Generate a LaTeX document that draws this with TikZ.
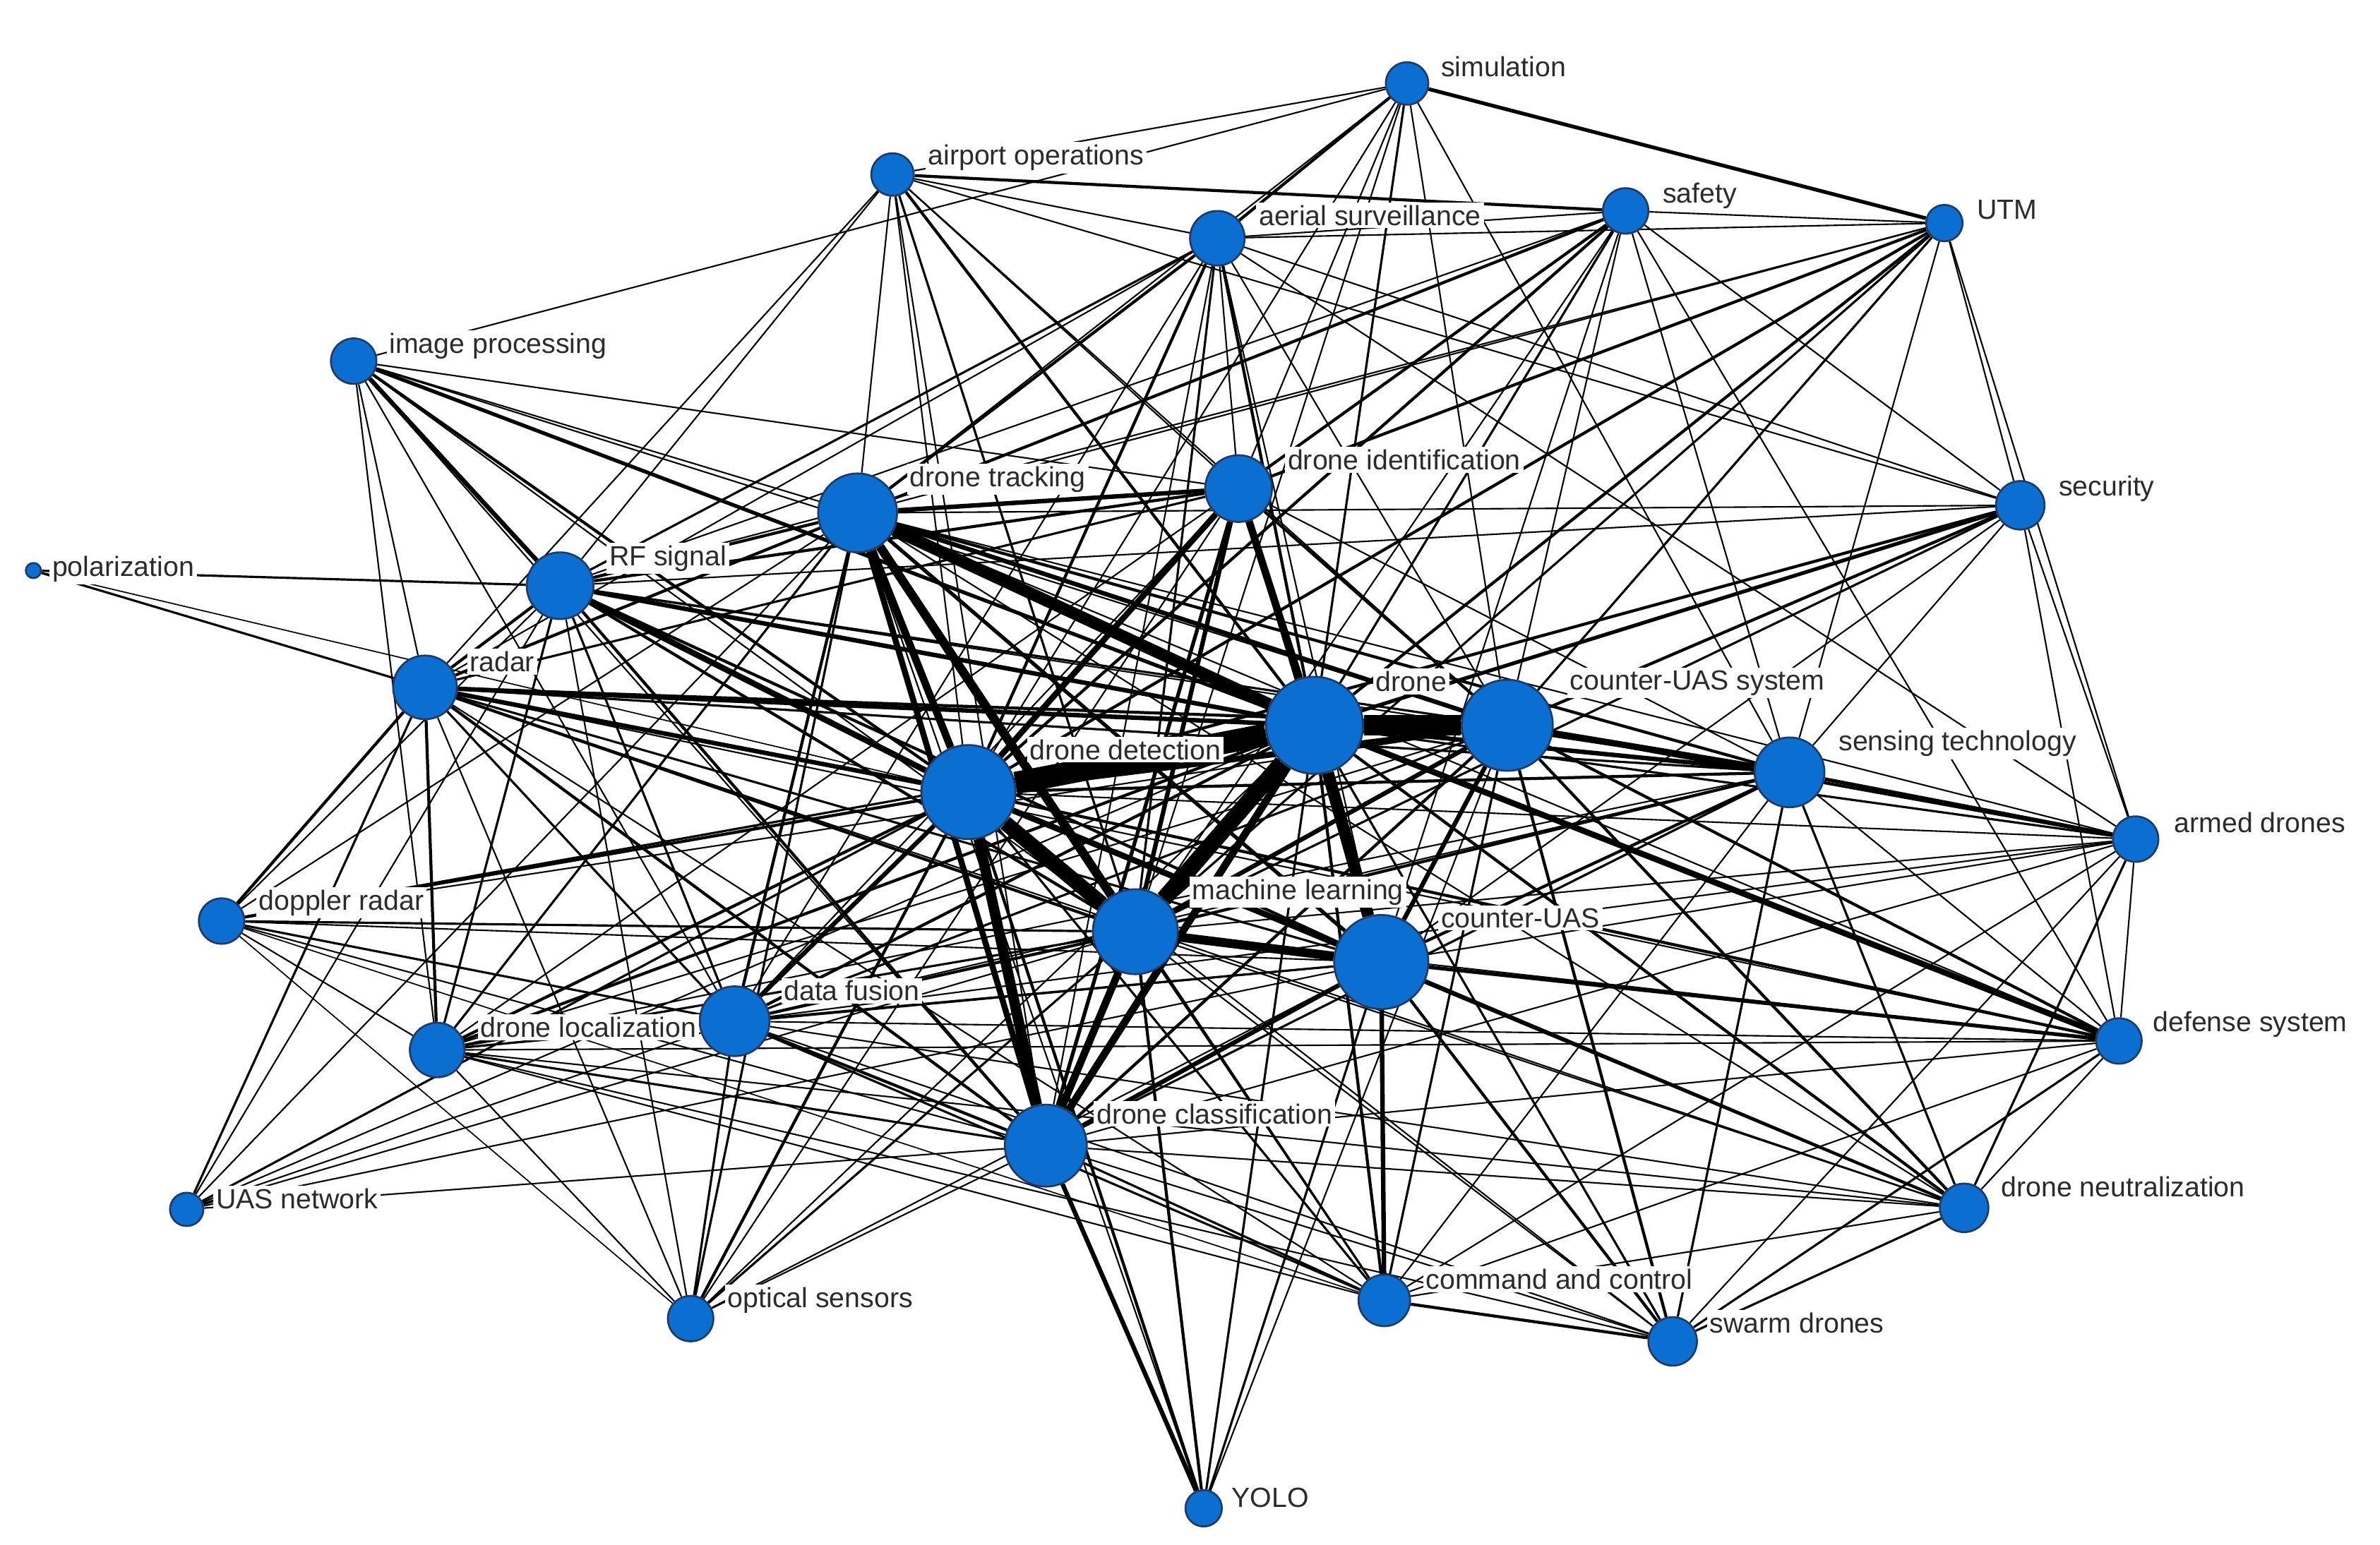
\documentclass[tikz,border=0pt]{standalone}
\usepackage{fontspec}
\setmainfont{Liberation Sans}
\usetikzlibrary{backgrounds}
\definecolor{kwfill}{HTML}{0A6FD1}
\definecolor{kwdraw}{HTML}{1F3A66}
\definecolor{kwtext}{HTML}{2B2B2B}
\tikzset{
  kw/.style={circle, draw=kwdraw, line width=0.35pt, fill=kwfill, inner sep=0pt},
  kwlabel/.style={fill=white, inner sep=0.5pt, anchor=west, text=kwtext,
                  font=\fontsize{5.2}{6}\selectfont},
  link/.style={draw=black},
}

\begin{document}
\begin{tikzpicture}[x=0.1mm, y=-0.1mm]
  \useasboundingbox (0,0) rectangle (1568,1018);
  % keywords: name / x / y / radius / label x / label y / text
  \foreach \n/\x/\y/\r/\lx/\ly/\txt in {
      sim/927/55/14/947/44/simulation,
      airport/588/115/14/609/104/airport operations,
      aerial/802/157/18/827/142/aerial surveillance,
      safety/1071/139/15/1093/129/safety,
      utm/1281/147/12/1300/138/UTM,
      imgproc/233/238/15/254/228/image processing,
      security/1331/333/16/1354/322/security,
      tracking/565/338/26/597/316/drone tracking,
      ident/816/322/22/846/303/drone identification,
      polar/22/376/5/32/375/polarization,
      rf/369/386/22/399/368/RF signal,
      radar/280/453/21/307/436/radar,
      drone/866/478/32/904/449/drone,
      cuass/993/478/30/1032/450/counter-UAS system,
      detect/638/522/31/676/494/drone detection,
      sensing/1179/509/23/1209/490/sensing technology,
      armed/1407/553/15/1430/542/armed drones,
      doppler/146/607/15/168/595/doppler radar,
      ml/748/614/28/783/588/machine learning,
      cuas/910/634/31/947/605/counter-UAS,
      fusion/484/673/23/514/653/data fusion,
      local/288/692/18/314/677/drone localization,
      defense/1396/686/15/1416/675/defense system,
      classif/689/755/27/720/734/drone classification,
      uasnet/123/797/11/140/790/UAS network,
      neutral/1294/796/16/1316/782/drone neutralization,
      optical/455/869/15/477/857/optical sensors,
      cc/912/857/17/937/843/command and control,
      swarm/1102/884/16/1124/872/swarm drones,
      yolo/793/994/12/809/987/YOLO}{
    \node[kw, minimum size=2*\r*0.1mm] (\n) at (\x,\y) {};
    \node[kwlabel] (\n-lbl) at (\lx,\ly) {\txt};
  }
  % co-occurrence links: from / to / width in px
  \begin{pgfonlayer}{background}
    \foreach \a/\b/\w in {
        drone/detect/15, drone/cuass/14, drone/ml/11, tracking/drone/8,
        drone/cuas/8, detect/ml/10, detect/classif/7, tracking/detect/5,
        tracking/ml/6, tracking/classif/4, classif/ml/5, classif/drone/5,
        ident/drone/5, ident/detect/4, ident/ml/3, ident/classif/2.5,
        ml/cuas/6, detect/cuas/4, detect/cuass/4, cuass/cuas/3,
        cuass/ml/3, cuass/sensing/4, drone/sensing/3, detect/sensing/2,
        classif/cuas/3, tracking/cuass/3, tracking/ident/3, tracking/cuas/2.5,
        rf/detect/4, rf/drone/3, rf/tracking/2, rf/ml/2, rf/classif/2,
        rf/cuas/2, rf/cuass/1.5, radar/detect/3, radar/drone/3,
        radar/cuass/2, radar/ml/2, radar/classif/2, radar/rf/2,
        radar/tracking/2, radar/local/2, radar/doppler/2, drone/defense/4,
        cuas/defense/2.5, cuass/defense/2, cuass/neutral/2, drone/neutral/2,
        cuas/neutral/2, cuas/cc/3, drone/cc/2, cuas/swarm/2, cuass/swarm/2,
        drone/swarm/1.5, sensing/armed/2.5, classif/yolo/3, ml/yolo/2,
        detect/yolo/2, drone/yolo/1.5, cuas/yolo/1.5, tracking/yolo/1,
        cuass/yolo/1,
        polar/rf/1.5, polar/radar/1.5, polar/detect/0.8,
        imgproc/rf/3, imgproc/drone/2.5, imgproc/detect/2, imgproc/tracking/1,
        imgproc/ident/1, imgproc/radar/1, imgproc/local/1, imgproc/fusion/1,
        imgproc/classif/1, imgproc/ml/1, imgproc/cuass/1,
        sim/airport/1, sim/imgproc/1, sim/utm/2.5, sim/aerial/2,
        sim/tracking/1, sim/ident/1, sim/drone/1.5, sim/detect/1,
        sim/cuass/1, sim/sensing/1, sim/ml/1,
        airport/safety/2, airport/aerial/1, airport/rf/1, airport/radar/1,
        airport/detect/1, airport/drone/2, airport/ident/1, airport/cuass/1,
        airport/tracking/1, airport/security/1, airport/ml/1.5, airport/classif/1,
        aerial/utm/1, aerial/safety/1, aerial/tracking/2, aerial/rf/1.5,
        aerial/radar/1, aerial/detect/2, aerial/drone/2, aerial/ident/1,
        aerial/cuass/1, aerial/security/1, aerial/armed/1, aerial/ml/1.5,
        aerial/classif/1, aerial/fusion/1, aerial/cuas/1,
        safety/utm/1, safety/ident/2, safety/tracking/2, safety/detect/2,
        safety/drone/1.5, safety/rf/1, safety/cuass/1, safety/sensing/1,
        safety/security/1, safety/cuas/1, safety/defense/1, safety/ml/1,
        utm/security/1, utm/drone/2, utm/detect/2, utm/ident/2,
        utm/cuass/1.5, utm/tracking/1, utm/rf/1, utm/ml/1.5,
        utm/sensing/1, utm/armed/1,
        security/rf/1, security/drone/2.5, security/detect/2, security/cuass/2,
        security/ml/1.5, security/cuas/1, security/armed/1, security/defense/1,
        security/tracking/1, security/sensing/1,
        tracking/fusion/2, tracking/local/1.5, tracking/doppler/1,
        tracking/sensing/2, tracking/cc/1, tracking/optical/1.5,
        tracking/uasnet/1, tracking/defense/1, tracking/neutral/1,
        tracking/armed/1,
        ident/cuass/2, ident/cuas/2, ident/rf/2, ident/radar/1.5,
        ident/fusion/1, ident/local/1, ident/sensing/1, ident/optical/1,
        rf/fusion/1.5, rf/local/1.5, rf/doppler/1, rf/sensing/1,
        rf/optical/1, rf/uasnet/1,
        radar/fusion/1.5, radar/sensing/1.5, radar/cuas/1.5, radar/optical/1,
        radar/uasnet/1.5, radar/cc/1, radar/defense/1, radar/neutral/1,
        drone/fusion/2, drone/local/2, drone/doppler/1.5, drone/optical/1,
        drone/uasnet/1, drone/armed/1.5,
        cuass/classif/2, cuass/fusion/1.5, cuass/local/1, cuass/doppler/1,
        cuass/armed/2, cuass/cc/1.5,
        detect/fusion/3, detect/local/2, detect/doppler/2, detect/uasnet/1.5,
        detect/optical/2, detect/cc/1.5, detect/swarm/1, detect/neutral/1.5,
        detect/defense/2, detect/armed/1,
        sensing/defense/1, sensing/neutral/1.5, sensing/swarm/1.5,
        sensing/cc/1, sensing/cuas/2, sensing/ml/2, sensing/classif/1.5,
        sensing/fusion/1, sensing/local/1,
        ml/fusion/2, ml/local/1.5, ml/doppler/1.5, ml/optical/1.5,
        ml/cc/1.5, ml/swarm/1, ml/neutral/1, ml/defense/1, ml/armed/1,
        ml/uasnet/1,
        cuas/fusion/1.5, cuas/local/1, cuas/doppler/1, cuas/optical/1,
        cuas/uasnet/1, cuas/armed/1,
        fusion/classif/2, fusion/local/1.5, fusion/optical/1.5, fusion/cc/1.5,
        fusion/swarm/1, fusion/neutral/1, fusion/defense/1, fusion/uasnet/1,
        fusion/doppler/1.5,
        local/classif/1.5, local/optical/1, local/cc/1, local/swarm/1,
        local/neutral/1, local/doppler/1, local/defense/1,
        doppler/classif/1, doppler/optical/0.8, doppler/cc/0.8,
        uasnet/classif/1, optical/classif/1,
        cc/classif/1.5, cc/swarm/2, cc/neutral/1, cc/defense/1,
        swarm/defense/1.5, swarm/neutral/1.5, swarm/armed/1, swarm/classif/1,
        neutral/defense/1, neutral/armed/1.5, neutral/classif/1,
        defense/armed/1, defense/classif/1, armed/classif/1, armed/fusion/1,
        armed/cc/1}
      \draw[link, line width=\w*0.28pt] (\a) -- (\b);
  \end{pgfonlayer}
\end{tikzpicture}
\end{document}
